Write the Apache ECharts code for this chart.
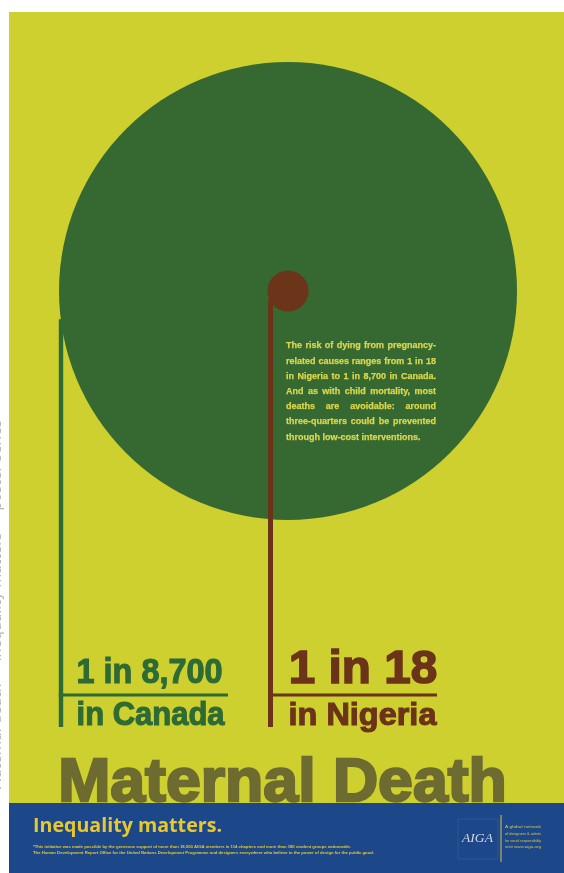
<!DOCTYPE html>
<html>
<head>
<meta charset="utf-8">
<style>
html,body{margin:0;padding:0;background:#ffffff;}
#c{width:564px;height:873px;}
</style>
<script src="https://cdn.jsdelivr.net/npm/echarts@6/dist/echarts.min.js"></script>
</head>
<body>
<div id="c"></div>
<script>
// ---------------- data ----------------
const countries = ['Canada', 'Nigeria'];
const riskOneIn = [8700, 18];               // lifetime risk of maternal death: 1 in N
const placeLabels = ['in Canada', 'in Nigeria'];
const titleText = 'Maternal Death';
const taglineText = 'Inequality matters.';
const bodyLines = [
  'The risk of dying from pregnancy-',
  'related causes ranges from 1 in 18',
  'in Nigeria to 1 in 8,700 in Canada.',
  'And as with child mortality, most',
  'deaths are avoidable: around',
  'three-quarters could be prevented',
  'through low-cost interventions.'
];
const finePrint = [
  '*This initiative was made possible by the generous support of more than 18,000 AIGA members in 114 chapters and more than 180 student groups nationwide.',
  'The Human Development Report Office for the United Nations Development Programme and designers everywhere who believe in the power of design for the public good.'
];
const logoText = 'AIGA';
const logoNote = ['A global network', 'of designers & artists', 'for social responsibility', 'visit www.aiga.org'];
const marginNote = 'Maternal death  \u00b7  inequality matters  \u00b7  poster series';

// ---------------- layout & style (axis units == px) ----------------
const W = 564, H = 873;
const layout = {
  poster: [9, 12],
  bandTop: 803,
  center: [288, 291],
  maxRadius: 229,
  sizeExponent: 0.39,
  stemX: [61, 270.5],
  stemWidth: [4.4, 5],
  stemBottom: 727,
  ruleY: 695,
  ruleWidth: 3,
  ruleRight: [228, 437],
  labelX: [76, 288],
  valueBaseline: 685,
  valueCap: [25, 33],
  valueWidth: [147, 150],
  valueStroke: [1.1, 1.6],
  placeBaseline: 727,
  placeCap: [24, 23],
  placeWidth: [149, 149],
  placeStroke: [1.1, 1.1],
  bodyX: 286, bodyW: 150, bodyY: 346, bodyStep: 15.2, bodyFont: 9
};
const palette = {
  bg: '#cdd02f',
  circle: ['#366932', '#6c3418'],
  ink: ['#2e6a34', '#6b3317'],
  title: '#6d6b30',
  band: '#1c488a',
  tagline: '#e8c82c',
  body: '#dbd74c',
  logo: '#cfd4e4',
  note: '#d7c24a'
};
const METRICS = {
  'Liberation Sans': {cap: 0.716, mid: 0.33},
  'Liberation Serif': {cap: 0.66, mid: 0.32},
  'Open Sans': {cap: 0.714, mid: 0.31},
  'DejaVu Sans': {cap: 0.73, mid: 0.32}
};

const ctx = document.createElement('canvas').getContext('2d');
function measure(text, weight, size, family, style) {
  ctx.font = (style || 'normal') + ' ' + weight + ' ' + size + 'px "' + family + '"';
  return ctx.measureText(text).width;
}
// text placed by baseline and cap height, optionally stretched to a target width
function makeText(text, x, baseline, capH, width, family, weight, fill, strokeW) {
  const m = METRICS[family];
  const fs = capH / m.cap;
  const nat = measure(text, weight, fs, family) + (strokeW || 0);
  const sx = width ? width / nat : 1;
  const st = {text: text, fontSize: fs, fontFamily: family, fontWeight: weight,
              fill: fill, align: 'left', verticalAlign: 'middle'};
  if (strokeW) { st.stroke = fill; st.lineWidth = strokeW; st.lineJoin = 'round'; }
  return {type: 'text', x: x + (strokeW || 0) / 2, y: baseline - m.mid * fs, scaleX: sx, style: st};
}
function makeSized(text, x, yMid, fs, width, family, weight, fill, fontStyle) {
  const nat = measure(text, weight, fs, family, fontStyle);
  const sx = width ? width / nat : 1;
  return {
    type: 'text', x: x, y: yMid, scaleX: sx,
    style: {text: text, fontSize: fs, fontFamily: family, fontWeight: weight,
            fontStyle: fontStyle || 'normal', fill: fill, align: 'left', verticalAlign: 'middle'}
  };
}

const maxRisk = Math.max.apply(null, riskOneIn);

function renderItem(params, api) {
  const i = params.dataIndex;
  const v = api.value(1);
  const c = api.coord(layout.center);
  const R = api.size([layout.maxRadius * Math.pow(v / maxRisk, layout.sizeExponent), 0])[0];
  const sx = api.coord([layout.stemX[i], 0])[0];
  const dx = sx - c[0];
  const yStart = Math.abs(dx) < R ? c[1] + Math.sqrt(R * R - dx * dx) - 2 : c[1];
  const yBottom = api.coord([0, layout.stemBottom])[1];
  const ry = api.coord([0, layout.ruleY])[1];
  const rr = api.coord([layout.ruleRight[i], 0])[0];
  const lx = api.coord([layout.labelX[i], 0])[0];
  const vb = api.coord([0, layout.valueBaseline])[1];
  const pb = api.coord([0, layout.placeBaseline])[1];
  const sw = layout.stemWidth[i];
  return {
    type: 'group',
    children: [
      {type: 'circle', shape: {cx: c[0], cy: c[1], r: R}, style: {fill: palette.circle[i]}},
      {type: 'line', shape: {x1: sx, y1: yStart, x2: sx, y2: yBottom},
       style: {stroke: palette.ink[i], lineWidth: sw}},
      {type: 'line', shape: {x1: sx - sw / 2, y1: ry, x2: rr, y2: ry},
       style: {stroke: palette.ink[i], lineWidth: layout.ruleWidth}},
      makeText('1 in ' + v.toLocaleString('en-US'), lx, vb, layout.valueCap[i], layout.valueWidth[i],
               'Liberation Sans', 'bold', palette.ink[i], layout.valueStroke[i]),
      makeText(placeLabels[i], lx, pb, layout.placeCap[i], layout.placeWidth[i],
               'Liberation Sans', 'bold', palette.ink[i], layout.placeStroke[i])
    ]
  };
}

// ---------------- decorative poster elements ----------------
const graphics = [];
// cut-off rotated note in the left margin (mostly outside the page)
graphics.push({type: 'text', z: 0, x: -3, y: 605, rotation: Math.PI / 2,
  style: {text: marginNote, fontSize: 14, fontFamily: 'DejaVu Sans', fontWeight: 'normal', fill: '#b4b4b4',
          align: 'center', verticalAlign: 'middle'}});
graphics.push({type: 'rect', z: 0, shape: {x: layout.poster[0], y: layout.poster[1], width: W - layout.poster[0], height: H - layout.poster[1]},
  style: {fill: palette.bg}});
graphics.push(Object.assign({z: 1}, makeText(titleText, 57, 804, 44, 451, 'Liberation Sans', 'bold', palette.title, 2.4)));
graphics.push({type: 'rect', z: 3, shape: {x: layout.poster[0], y: layout.bandTop, width: W - layout.poster[0], height: H - layout.bandTop},
  style: {fill: palette.band}});
graphics.push(Object.assign({z: 4}, makeText(taglineText, 33, 832, 14, 189, 'Open Sans', 'bold', palette.tagline)));
graphics.push(Object.assign({z: 4}, makeSized(finePrint[0], 33, 847, 4, 318, 'Liberation Sans', 'bold', palette.tagline)));
graphics.push(Object.assign({z: 4}, makeSized(finePrint[1], 33, 852.5, 4, 341, 'Liberation Sans', 'bold', palette.tagline)));
// logo block
graphics.push({type: 'rect', z: 4, shape: {x: 458, y: 819, width: 40, height: 40},
  style: {fill: 'none', stroke: '#2a5698', lineWidth: 1}});
graphics.push(Object.assign({z: 5}, makeSized(logoText, 462, 839, 12, 31, 'Liberation Serif', 'normal', palette.logo, 'italic')));
graphics.push({type: 'line', z: 5, shape: {x1: 501, y1: 815, x2: 501, y2: 862},
  style: {stroke: palette.note, lineWidth: 1}});
logoNote.forEach(function (t, k) {
  graphics.push(Object.assign({z: 5}, makeSized(t, 505, 827 + k * 6.8, 3.8, 36, 'Liberation Sans', 'normal', palette.note)));
});
// justified body text
bodyLines.forEach(function (line, li) {
  const fs = layout.bodyFont, fam = 'Liberation Sans', wt = 'bold';
  const words = line.split(' ');
  const ws = words.map(function (w) { return measure(w, wt, fs, fam); });
  const total = ws.reduce(function (a, b) { return a + b; }, 0);
  const last = li === bodyLines.length - 1;
  const space = measure(' ', wt, fs, fam);
  let gap = last ? space : (layout.bodyW - total) / (words.length - 1);
  let scale = 1;
  if (gap < space * 0.8) { gap = space * 0.8; scale = layout.bodyW / (total + gap * (words.length - 1)); }
  let x = layout.bodyX;
  const y = layout.bodyY + li * layout.bodyStep;
  words.forEach(function (w, k) {
    graphics.push({type: 'text', z: 6, x: x, y: y, scaleX: scale,
      style: {text: w, fontSize: fs, fontFamily: fam, fontWeight: wt, fill: palette.body,
              stroke: palette.body, lineWidth: 0.25, align: 'left', verticalAlign: 'middle'}});
    x += (ws[k] + gap) * scale;
  });
});

const chart = echarts.init(document.getElementById('c'), null, {renderer: 'canvas'});
chart.setOption({
  backgroundColor: '#ffffff',
  animation: false,
  grid: {left: 0, right: 0, top: 0, bottom: 0},
  xAxis: {type: 'value', min: 0, max: W, show: false},
  yAxis: {type: 'value', min: 0, max: H, inverse: true, show: false},
  graphic: {elements: graphics},
  series: [{
    type: 'custom',
    name: 'Lifetime risk of maternal death',
    coordinateSystem: 'cartesian2d',
    z: 2,
    renderItem: renderItem,
    data: countries.map(function (c, i) { return [i, riskOneIn[i]]; })
  }]
});
</script>
</body>
</html>
